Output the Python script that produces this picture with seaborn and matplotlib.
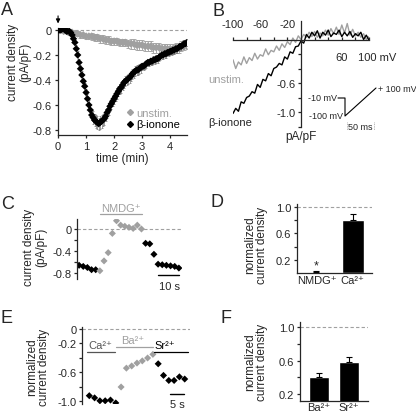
import numpy as np
import pandas as pd
import matplotlib
matplotlib.use('Agg')
import matplotlib.pyplot as plt
from matplotlib.lines import Line2D
import seaborn as sns

# ---------------- data ----------------
# A: mean current density vs time (min)
a_time_unstim = np.round(np.arange(0, 4.65, 0.1), 2)
a_unstim = [0.00, 0.00, -0.01, -0.01, -0.02, -0.02, -0.03, -0.03, -0.04, -0.04,
            -0.05, -0.05, -0.05, -0.06, -0.06, -0.07, -0.07, -0.08, -0.08, -0.09,
            -0.09, -0.09, -0.10, -0.10, -0.10, -0.11, -0.11, -0.11, -0.12, -0.12,
            -0.12, -0.13, -0.13, -0.13, -0.14, -0.14, -0.14, -0.15, -0.15, -0.15,
            -0.15, -0.15, -0.14, -0.14, -0.13, -0.12, -0.11]
a_unstim_err = [0.01, 0.01, 0.01, 0.01, 0.02, 0.02, 0.02, 0.02, 0.02, 0.02,
                0.02, 0.02, 0.03, 0.03, 0.03, 0.03, 0.03, 0.03, 0.03, 0.03,
                0.03, 0.03, 0.03, 0.03, 0.03, 0.03, 0.04, 0.04, 0.04, 0.04,
                0.04, 0.04, 0.04, 0.04, 0.04, 0.04, 0.04, 0.04, 0.04, 0.04,
                0.04, 0.04, 0.04, 0.04, 0.04, 0.04, 0.04]
a_time_ionone = np.round(np.arange(0, 4.62, 0.05), 2)
a_ionone = [0.00, 0.00, 0.00, 0.01, 0.01, 0.00, -0.01, -0.01, -0.01, -0.02,
            -0.04, -0.07, -0.10, -0.15, -0.20, -0.26, -0.31, -0.36, -0.41, -0.45,
            -0.50, -0.55, -0.60, -0.64, -0.68, -0.70, -0.72, -0.73, -0.74, -0.75,
            -0.74, -0.73, -0.72, -0.71, -0.69, -0.66, -0.64, -0.61, -0.59, -0.57,
            -0.55, -0.53, -0.51, -0.49, -0.47, -0.46, -0.44, -0.42, -0.41, -0.40,
            -0.39, -0.38, -0.37, -0.35, -0.34, -0.33, -0.32, -0.32, -0.31, -0.30,
            -0.29, -0.29, -0.28, -0.27, -0.26, -0.26, -0.25, -0.25, -0.24, -0.24,
            -0.23, -0.23, -0.22, -0.21, -0.20, -0.20, -0.19, -0.19, -0.18, -0.18,
            -0.17, -0.17, -0.16, -0.16, -0.15, -0.15, -0.14, -0.13, -0.13, -0.12,
            -0.11, -0.11, -0.10]
a_ionone_err = [0.01, 0.01, 0.01, 0.01, 0.01, 0.01, 0.01, 0.01, 0.01, 0.01,
                0.02, 0.02, 0.02, 0.03, 0.03, 0.03, 0.03, 0.03, 0.03, 0.03,
                0.03, 0.04, 0.04, 0.04, 0.04, 0.05, 0.05, 0.05, 0.05, 0.05,
                0.05, 0.05, 0.05, 0.05, 0.04, 0.04, 0.04, 0.04, 0.04, 0.04,
                0.04, 0.04, 0.04, 0.04, 0.04, 0.04, 0.04, 0.04, 0.04, 0.04,
                0.04, 0.04, 0.04, 0.04, 0.04, 0.04, 0.04, 0.04, 0.04, 0.04,
                0.03, 0.03, 0.03, 0.03, 0.03, 0.03, 0.03, 0.03, 0.03, 0.03,
                0.03, 0.03, 0.03, 0.03, 0.03, 0.03, 0.03, 0.03, 0.03, 0.03,
                0.03, 0.03, 0.03, 0.03, 0.03, 0.03, 0.03, 0.03, 0.03, 0.03,
                0.03, 0.03, 0.03]

# B: current-voltage relation from the ramp (mV, pA/pF)
b_mv = np.arange(-100, 101, 4)
b_unstim = [-0.28, -0.40, -0.31, -0.35, -0.24, -0.33, -0.25, -0.29, -0.19, -0.27,
            -0.21, -0.23, -0.13, -0.21, -0.15, -0.17, -0.09, -0.15, -0.06, -0.11,
            -0.03, -0.07, 0.02, -0.04, 0.05, 0.00, 0.07, 0.03, 0.10, 0.04,
            0.11, 0.03, 0.09, 0.05, 0.13, 0.06, 0.15, 0.08, 0.17, 0.07,
            0.20, 0.09, 0.22, 0.06, 0.14, 0.05, 0.10, 0.03, 0.08, 0.00, 0.04]
b_ionone = [-1.02, -0.95, -0.99, -0.86, -0.88, -0.80, -0.78, -0.72, -0.74, -0.62,
            -0.66, -0.55, -0.57, -0.47, -0.50, -0.40, -0.38, -0.33, -0.35, -0.24,
            -0.27, -0.17, -0.19, -0.10, -0.09, -0.02, -0.05, 0.07, 0.02, 0.10,
            0.05, 0.12, 0.02, 0.10, 0.06, 0.13, 0.04, 0.09, 0.07, 0.13,
            0.04, 0.10, 0.05, 0.11, 0.03, 0.08, 0.05, 0.10, 0.00, 0.06, -0.01]

# C: single cell, NMDG+ substitution (s)
c_time = np.arange(0, 50, 2)
c_current = [-0.66, -0.68, -0.70, -0.74, -0.74,
             -0.76, -0.58, -0.43, -0.08, 0.15, 0.07, 0.05, 0.03, 0.01, 0.07, 0.00,
             -0.26, -0.27, -0.46, -0.64, -0.65, -0.66, -0.67, -0.68, -0.71]
c_solution = ['Ca'] * 5 + ['NMDG'] * 11 + ['wash'] * 9

# D: normalized current density
d_labels = ['NMDG\u207a', 'Ca\u00b2\u207a']
d_mean = [0.02, 0.80]
d_sem = [0.01, 0.09]

# E: single cell, Ca -> Ba -> Sr (s)
e_time = np.arange(0, 38, 2)
e_current = [-0.92, -0.95, -0.99, -0.99, -0.98, -1.02,
             -0.80, -0.54, -0.51, -0.47, -0.44, -0.40, -0.35,
             -0.48, -0.64, -0.71, -0.71, -0.66, -0.69]
e_ion = ['Ca'] * 6 + ['Ba'] * 7 + ['Sr'] * 6

# F: normalized current density
f_labels = ['Ba\u00b2\u207a', 'Sr\u00b2\u207a']
f_mean = [0.41, 0.59]
f_sem = [0.04, 0.06]

# ---------------- style ----------------
sns.set_style('ticks')
plt.rcParams['font.family'] = ['Liberation Sans', 'DejaVu Sans']
plt.rcParams['axes.unicode_minus'] = False
plt.rcParams['axes.linewidth'] = 0.9
plt.rcParams['xtick.major.width'] = 0.9
plt.rcParams['ytick.major.width'] = 0.9
plt.rcParams['xtick.major.size'] = 2.5
plt.rcParams['ytick.major.size'] = 2.5
plt.rcParams['xtick.labelsize'] = 8
plt.rcParams['ytick.labelsize'] = 8
plt.rcParams['xtick.major.pad'] = 1.5
plt.rcParams['ytick.major.pad'] = 1.5

gray = '#a0a0a0'
font_size = 8
lab_size = 8.5
W, H = 416, 414

fig = plt.figure(figsize=(W / 100, H / 100), dpi=100)


def fx(x):
    return x / W


def fy(y):
    return 1 - y / H


def px_axes(left, top, right, bottom):
    return fig.add_axes([left / W, 1 - bottom / H, (right - left) / W, (bottom - top) / H])


def fig_line(xs, ys, **kw):
    fig.add_artist(Line2D([fx(x) for x in xs], [fy(y) for y in ys], transform=fig.transFigure, **kw))


def ylabel_px(x, y, s):
    fig.text(fx(x), fy(y), s, rotation=90, ha='center', va='center', fontsize=lab_size,
             multialignment='center', linespacing=1.0)


# panel letters
for letter, (lx, ly) in zip('ABCDEF', [(1, 2), (212, 3), (1, 196), (210, 194), (1, 310), (221, 310)]):
    fig.text(fx(lx), fy(ly), letter, fontsize=13, ha='left', va='top')

# ---------------- A ----------------
ax_a = px_axes(57.5, 28.5, 187, 136)
ax_a.axhline(0, color=gray, ls=(0, (3, 2)), lw=0.8, zorder=0)
ax_a.errorbar(a_time_unstim, a_unstim, yerr=a_unstim_err, fmt='none', ecolor=gray,
              elinewidth=0.6, capsize=1.2, capthick=0.6, zorder=1)
ax_a.errorbar(a_time_ionone, a_ionone, yerr=a_ionone_err, fmt='none', ecolor='#777777',
              elinewidth=0.5, capsize=1.0, capthick=0.5, zorder=1)
sns.scatterplot(x=a_time_unstim, y=a_unstim, marker='D', s=16, color=gray, edgecolor='none', ax=ax_a, zorder=2)
sns.scatterplot(x=a_time_ionone, y=a_ionone, marker='D', s=14, color='black', edgecolor='none', ax=ax_a, zorder=3)
ax_a.set_xlim(-0.02, 4.6)
ax_a.set_ylim(-0.84, 0.02)
ax_a.set_xticks([0, 1, 2, 3, 4])
ax_a.set_yticks([0, -0.2, -0.4, -0.6, -0.8])
ax_a.set_yticklabels(['0', '-0.2', '-0.4', '-0.6', '-0.8'])
ax_a.set_xlabel('time (min)', fontsize=lab_size, labelpad=1)
sns.despine(ax=ax_a)
ylabel_px(19, 62, 'current density\n(pA/pF)')
ax_a.annotate('', xy=(0, 0.03), xytext=(0, 0.135), annotation_clip=False,
              arrowprops=dict(arrowstyle='-|>', color='black', lw=0.8, mutation_scale=6))
handles = [Line2D([], [], marker='D', ls='none', color=gray, markersize=3),
           Line2D([], [], marker='D', ls='none', color='black', markersize=3)]
ax_a.legend(handles, ['unstim.', '\u03b2-ionone'], loc='lower right', bbox_to_anchor=(0.99, 0.0),
            frameon=False, fontsize=font_size, handletextpad=0.1, handlelength=1.0,
            labelspacing=0.15, borderaxespad=0.1, labelcolor=[gray, 'black'])

# ---------------- B ----------------
ax_b = px_axes(233, 21.65, 369, 127.5)
sns.lineplot(x=b_mv, y=b_unstim, color=gray, lw=1.0, ax=ax_b)
sns.lineplot(x=b_mv, y=b_ionone, color='black', lw=1.0, ax=ax_b)
ax_b.set_xlim(-100, 100)
ax_b.set_ylim(-1.2, 0.26)
ax_b.spines['left'].set_position(('data', 0))
ax_b.spines['bottom'].set_position(('data', 0))
ax_b.spines['top'].set_visible(False)
ax_b.spines['right'].set_visible(False)
ax_b.set_xticks([-100, -80, -60, -40, -20, 20, 40, 60, 80, 100])
ax_b.set_xticklabels([])
ax_b.tick_params(axis='x', direction='in', length=2.5)
ax_b.set_yticks([-1.2, -1.0, -0.8, -0.6, -0.4, -0.2])
ax_b.set_yticklabels(['', '-1.0', '', '-0.6', '', ''])
ax_b.set_xlabel('')
ax_b.set_ylabel('')
for xv in [-100, -60, -20]:
    ax_b.text(xv, 0.21, str(xv), ha='center', va='center', fontsize=font_size)
ax_b.text(60, -0.24, '60', ha='center', va='center', fontsize=font_size)
ax_b.text(84, -0.24, '100 mV', ha='left', va='center', fontsize=font_size)
ax_b.text(0, -1.33, 'pA/pF', ha='center', va='center', fontsize=lab_size, clip_on=False)
ax_b.text(-137, -0.545, 'unstim.', ha='left', va='center', fontsize=font_size, color=gray, clip_on=False)
ax_b.text(-137, -1.14, '\u03b2-ionone', ha='left', va='center', fontsize=font_size, clip_on=False)

# voltage protocol inset
fig_line([338, 345, 345, 376], [99, 99, 117, 89], color='black', lw=0.8)
fig.text(fx(337), fy(99), '-10 mV', ha='right', va='center', fontsize=6.5)
fig.text(fx(343), fy(117), '-100 mV', ha='right', va='center', fontsize=6.5)
fig.text(fx(378), fy(89), '+ 100 mV', ha='left', va='center', fontsize=6.5)
fig.text(fx(360.5), fy(127), '50 ms', ha='center', va='center', fontsize=6.5)
fig_line([347, 347], [123, 131], color=gray, lw=0.6, ls=(0, (1, 1)))
fig_line([374, 374], [123, 131], color=gray, lw=0.6, ls=(0, (1, 1)))

# ---------------- C ----------------
ax_c = px_axes(77, 220.1, 182, 279.5)
ax_c.axhline(0, color=gray, ls=(0, (3, 2)), lw=0.8, zorder=0)
df_c = pd.DataFrame({'time': c_time, 'current': c_current, 'solution': c_solution})
sns.scatterplot(data=df_c, x='time', y='current', hue='solution', marker='D', s=13,
                palette={'Ca': 'black', 'NMDG': gray, 'wash': 'black'},
                edgecolor='none', legend=False, ax=ax_c)
ax_c.set_xlim(-1, 49.5)
ax_c.set_ylim(-0.9, 0.18)
ax_c.set_yticks([0, -0.2, -0.4, -0.6, -0.8])
ax_c.set_yticklabels(['0', '', '-0.4', '', '-0.8'])
ax_c.set_xticks([])
ax_c.set_xlabel('')
ax_c.set_ylabel('')
sns.despine(ax=ax_c, bottom=True)
ylabel_px(35, 247, 'current density\n(pA/pF)')
ax_c.plot([10.1, 30.2], [0.27, 0.27], color=gray, lw=0.9, clip_on=False)
ax_c.text(20.2, 0.38, 'NMDG\u207a', ha='center', va='center', fontsize=font_size, color=gray)
ax_c.plot([38, 48], [-0.836, -0.836], color='black', lw=1.0, clip_on=False)
ax_c.text(43.5, -1.04, '10 s', ha='center', va='center', fontsize=font_size, clip_on=False)

# ---------------- D ----------------
ax_d = px_axes(297, 204.5, 372, 274.3)
ax_d.axhline(1.0, color=gray, ls=(0, (3, 2)), lw=0.8, zorder=0)
sns.barplot(x=d_labels, y=d_mean, color='black', saturation=1, width=0.61, errorbar=None, ax=ax_d)
ax_d.errorbar([0, 1], d_mean, yerr=[[0, 0], d_sem], fmt='none', ecolor='black',
              elinewidth=0.8, capsize=2, capthick=0.8)
ax_d.text(0, 0.12, '*', ha='center', va='center', fontsize=9)
ax_d.set_xlim(-0.54, 1.54)
ax_d.set_ylim(0, 1.05)
ax_d.set_yticks([0.2, 0.4, 0.6, 0.8, 1.0])
ax_d.set_yticklabels(['0.2', '', '0.6', '', '1.0'])
ax_d.tick_params(axis='x', length=0, pad=1.5)
sns.despine(ax=ax_d)
ylabel_px(256, 245, 'normalized\ncurrent density')

# ---------------- E ----------------
ax_e = px_axes(82, 327.8, 190, 405.4)
ax_e.axhline(0, color=gray, ls=(0, (3, 2)), lw=0.8, zorder=0)
df_e = pd.DataFrame({'time': e_time, 'current': e_current, 'ion': e_ion})
sns.scatterplot(data=df_e, x='time', y='current', hue='ion', marker='D', s=13,
                palette={'Ca': 'black', 'Ba': gray, 'Sr': 'black'},
                edgecolor='none', legend=False, ax=ax_e)
ax_e.set_xlim(-2.75, 38)
ax_e.set_ylim(-1.04, 0.03)
ax_e.set_yticks([0, -0.2, -0.4, -0.6, -0.8, -1.0])
ax_e.set_yticklabels(['0', '-0.2', '', '-0.6', '', '-1.0'])
ax_e.set_xticks([])
ax_e.set_xlabel('')
ax_e.set_ylabel('')
sns.despine(ax=ax_e, bottom=True)
ylabel_px(38, 367, 'normalized\ncurrent density')
ax_e.plot([-0.9, 9.6], [-0.317, -0.317], color='#555555', lw=0.9)
ax_e.plot([10.0, 23.9], [-0.244, -0.244], color=gray, lw=0.9)
ax_e.plot([24.3, 37.2], [-0.317, -0.317], color='black', lw=0.9)
ax_e.text(4.3, -0.215, 'Ca\u00b2\u207a', ha='center', va='center', fontsize=font_size, color='#555555')
ax_e.text(16.4, -0.15, 'Ba\u00b2\u207a', ha='center', va='center', fontsize=font_size, color=gray)
ax_e.text(28.5, -0.215, 'Sr\u00b2\u207a', ha='center', va='center', fontsize=font_size, color='black')
ax_e.plot([30.5, 35.7], [-0.9, -0.9], color='black', lw=1.0)
ax_e.text(33.1, -1.04, '5 s', ha='center', va='center', fontsize=font_size, clip_on=False)

# ---------------- F ----------------
ax_f = px_axes(300, 323.4, 368, 402)
ax_f.axhline(1.0, color=gray, ls=(0, (3, 2)), lw=0.8, zorder=0)
sns.barplot(x=f_labels, y=f_mean, color='black', saturation=1, width=0.67, errorbar=None, ax=ax_f)
ax_f.errorbar([0, 1], f_mean, yerr=[[0, 0], f_sem], fmt='none', ecolor='black',
              elinewidth=0.8, capsize=2, capthick=0.8)
ax_f.set_xlim(-0.63, 1.63)
ax_f.set_ylim(0.116, 1.06)
ax_f.set_yticks([0.2, 0.4, 0.6, 0.8, 1.0])
ax_f.set_yticklabels(['0.2', '', '0.6', '', '1.0'])
ax_f.tick_params(axis='x', length=0, pad=0.5)
sns.despine(ax=ax_f)
ylabel_px(256, 362, 'normalized\ncurrent density')

fig.savefig('out.png', dpi=100)
